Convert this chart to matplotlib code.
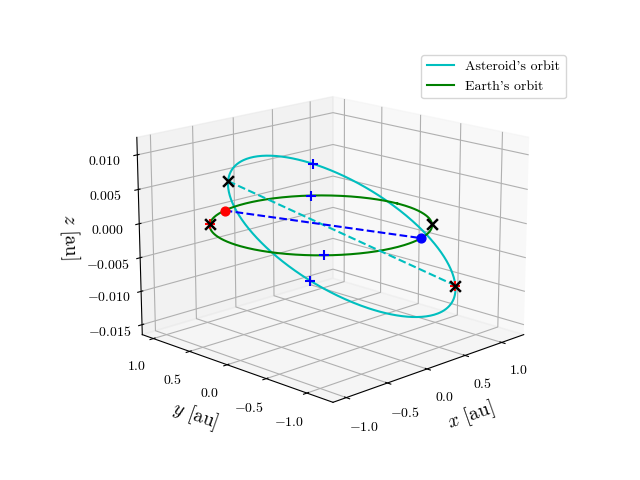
import numpy as np
import matplotlib
matplotlib.use("Agg")
import matplotlib.pyplot as plt

plt.rcParams["mathtext.fontset"] = "cm"
plt.rcParams["font.family"] = "serif"
plt.rcParams["font.serif"] = ["cmr10"]
plt.rcParams["axes.formatter.use_mathtext"] = True

# asteroid orbital elements (degrees)
a_ast = 1.025
e_ast = 0.19
inc_ast_deg = 0.5
Omega_ast_deg = 14.0
omega_ast_deg = 121.0
a_earth = 1.0

# marked positions
ast_close_nu_deg = [275.0, 85.0]       # blue + on asteroid orbit
earth_close_deg = [51.0, 227.0]        # blue + on Earth orbit
earth_apsis_deg = [135.0, -45.0]       # black x on Earth orbit
red_deg = 108.0                        # red dot on Earth orbit
blue_deg = -73.0                       # blue dot on Earth orbit

def orbit_xyz(a, e, inc, Om, om, nu):
    inc, Om, om, nu = np.radians(inc), np.radians(Om), np.radians(om), np.radians(nu)
    r = a * (1 - e**2) / (1 + e * np.cos(nu))
    u = om + nu
    x = r * (np.cos(Om) * np.cos(u) - np.sin(Om) * np.sin(u) * np.cos(inc))
    y = r * (np.sin(Om) * np.cos(u) + np.cos(Om) * np.sin(u) * np.cos(inc))
    z = r * np.sin(u) * np.sin(inc)
    return x, y, z

el = (a_ast, e_ast, inc_ast_deg, Omega_ast_deg, omega_ast_deg)
nu = np.linspace(0, 360, 400)
ax_, ay_, az_ = orbit_xyz(*el, nu)
t = np.radians(nu)
ex, ey, ez = a_earth * np.cos(t), a_earth * np.sin(t), 0 * t

aps = orbit_xyz(*el, np.array([0.0, 180.0]))
node_ang = np.radians(earth_apsis_deg)
cp = orbit_xyz(*el, np.array(ast_close_nu_deg))
ec = np.radians(earth_close_deg)
rr, bb = np.radians(red_deg), np.radians(blue_deg)

fig = plt.figure(figsize=(6.4, 4.8))
ax = fig.add_subplot(projection="3d")
ax.plot(ax_, ay_, az_, color="c", label="Asteroid's orbit")
ax.plot(ex, ey, ez, color="g", label="Earth's orbit")
ax.plot(aps[0], aps[1], aps[2], "c--")
ax.plot([np.cos(rr), np.cos(bb)], [np.sin(rr), np.sin(bb)], [0, 0], "b--")
ax.scatter(aps[0][1:], aps[1][1:], aps[2][1:], marker="+", color="r", s=60, depthshade=False)
ax.scatter(aps[0], aps[1], aps[2], marker="x", color="k", s=60, linewidths=1.8, depthshade=False)
nx, ny = np.cos(node_ang), np.sin(node_ang)
ax.scatter(nx[:1], ny[:1], [0], marker="+", color="r", s=60, depthshade=False)
ax.scatter(nx, ny, [0, 0], marker="x", color="k", s=60, linewidths=1.8, depthshade=False)
ax.scatter(cp[0], cp[1], cp[2], marker="+", color="b", s=60, depthshade=False)
ax.scatter(np.cos(ec), np.sin(ec), [0, 0], marker="+", color="b", s=60, depthshade=False)
ax.scatter([np.cos(rr)], [np.sin(rr)], [0], color="r", s=40, depthshade=False)
ax.scatter([np.cos(bb)], [np.sin(bb)], [0], color="b", s=40, depthshade=False)

ax.set_xlabel(r"$x$ [au]", fontsize=14)
ax.set_ylabel(r"$y$ [au]", fontsize=14)
ax.set_zlabel(r"$z$ [au]", fontsize=14)
ax.set_xticks([-1.0, -0.5, 0.0, 0.5, 1.0])
ax.set_yticks([-1.0, -0.5, 0.0, 0.5, 1.0])
ax.set_zticks([-0.015, -0.010, -0.005, 0.0, 0.005, 0.010])
ax.set_zlim(-0.0165, 0.0125)
ax.view_init(elev=16, azim=-135)
ax.set_box_aspect(None, zoom=1.15)
fig.legend(loc="upper right", bbox_to_anchor=(0.895, 0.9))
fig.savefig("out.png", dpi=100)
